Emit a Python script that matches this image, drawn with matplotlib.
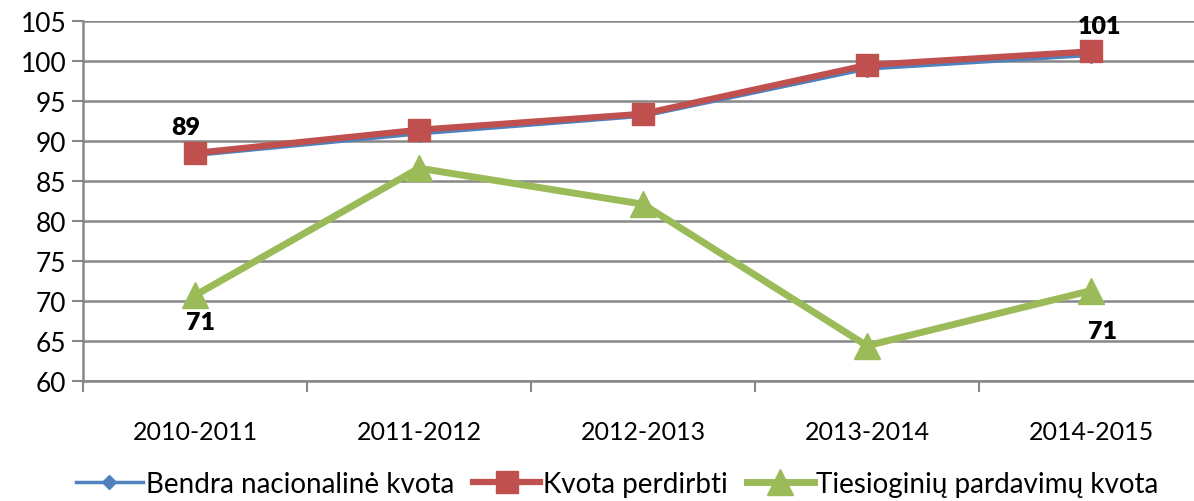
import matplotlib
matplotlib.use("Agg")
import matplotlib.pyplot as plt
from matplotlib import font_manager

seasons = ["2010-2011", "2011-2012", "2012-2013", "2013-2014", "2014-2015"]
bendra = [88.2, 90.9, 93.1, 99.0, 100.7]
perdirbti = [88.5, 91.4, 93.4, 99.5, 101.2]
tiesiogines = [70.7, 86.6, 82.1, 64.4, 71.3]
series_names = ["Bendra nacionalinė kvota", "Kvota perdirbti", "Tiesioginių pardavimų kvota"]

BLUE = "#4F81BD"
RED = "#C0504D"
GREEN = "#9BBB59"
GRID = "#878787"

names = {f.name for f in font_manager.fontManager.ttflist}
font = "Lato" if "Lato" in names else "DejaVu Sans"
narrow = "Liberation Sans Narrow" if "Liberation Sans Narrow" in names else font
plt.rcParams["font.family"] = [font, "DejaVu Sans"]

fig = plt.figure(figsize=(11.94, 5.02), dpi=100)
ax = fig.add_axes([83 / 1194, 120 / 502, 1120 / 1194, 360 / 502])

x = list(range(len(seasons)))
ax.plot(x, bendra, color=BLUE, lw=2.5, marker="D", ms=8, label=series_names[0], zorder=3)
ax.plot(x, perdirbti, color=RED, lw=4.5, marker="s", ms=16, label=series_names[1], zorder=4)
ax.plot(x, tiesiogines, color=GREEN, lw=5, marker="^", ms=19, label=series_names[2], zorder=3)

# data labels
lab = dict(fontsize=18, fontweight="heavy", ha="center", va="center")
ax.annotate("89", (0, perdirbti[0]), xytext=(-7, 19), textcoords="offset points", **lab)
ax.annotate("101", (4, perdirbti[4]), xytext=(6, 18), textcoords="offset points", **lab)
ax.annotate("71", (0, tiesiogines[0]), xytext=(4, -19), textcoords="offset points", **lab)
ax.annotate("71", (4, tiesiogines[4]), xytext=(8, -29), textcoords="offset points", **lab)

ax.set_xlim(-0.5, 4.5)
ax.set_ylim(60, 105)
ax.set_yticks(range(60, 106, 5))
ax.yaxis.grid(True, color=GRID, lw=1.8)
ax.set_axisbelow(True)
ax.set_xticks(x)
ax.set_xticklabels(seasons)
ax.set_xticks([i - 0.5 for i in range(len(seasons))], minor=True)
ax.tick_params(axis="x", which="major", length=0, pad=28, labelsize=18)
ax.tick_params(axis="x", which="minor", length=8, width=1.5, color=GRID, direction="out")
ax.tick_params(axis="y", length=8, width=1.5, color=GRID, labelsize=19, pad=4)

for s in ["top", "right"]:
    ax.spines[s].set_visible(False)
for s in ["left", "bottom"]:
    ax.spines[s].set_color(GRID)
    ax.spines[s].set_linewidth(1.8)

leg = fig.legend(loc="center", bbox_to_anchor=(0.517, 0.034), ncol=3, frameon=False,
                 prop={"family": narrow, "size": 20}, handlelength=2.4,
                 handletextpad=0.1, columnspacing=0.7, markerscale=0.95,
                 borderpad=0.2)

fig.savefig("out.png", dpi=100)
